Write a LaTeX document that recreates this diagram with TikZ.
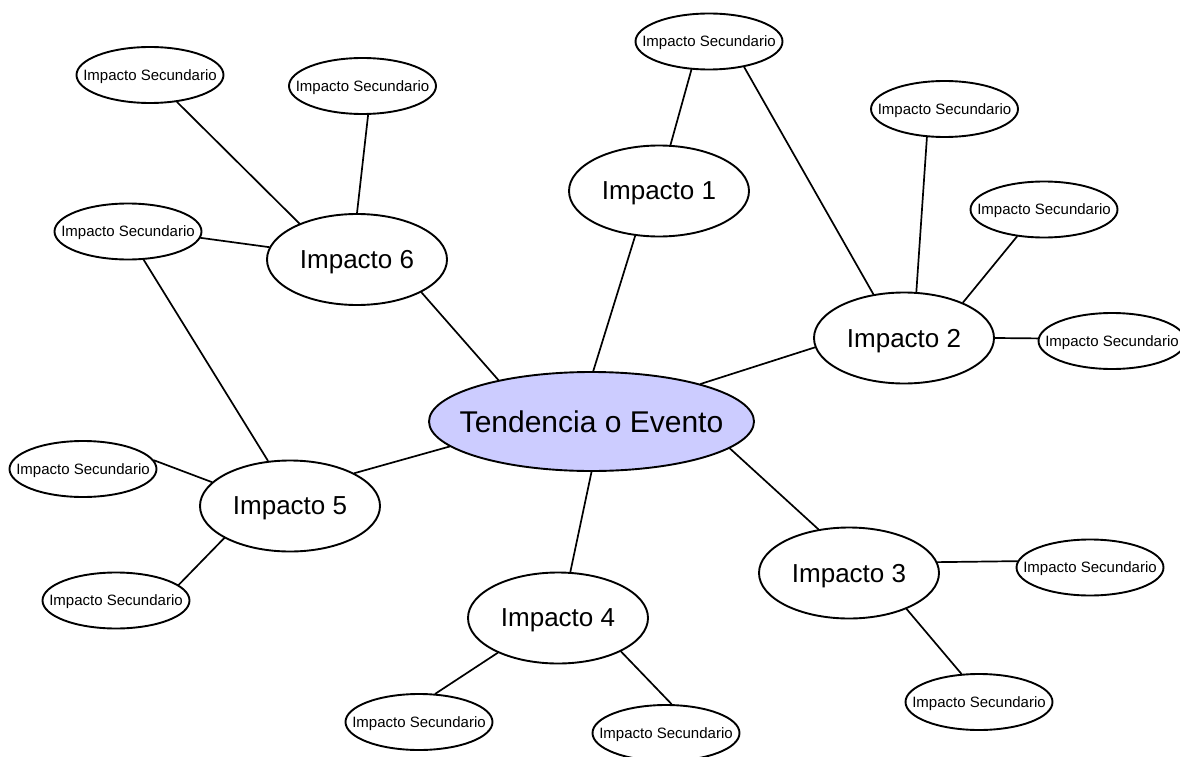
\documentclass[tikz,border=0pt]{standalone}
\usepackage{fontspec}
\setmainfont{Liberation Sans}
\usetikzlibrary{shapes.geometric}
\definecolor{lav}{RGB}{204,204,255}
\tikzset{
  ell/.style={ellipse, draw=black, line width=1.9pt, inner sep=0pt, fill=white},
  big/.style={ell, minimum width=180pt, minimum height=91pt},
  sec/.style={ell, minimum width=147pt, minimum height=56pt},
  hub/.style={ell, fill=lav, minimum width=325pt, minimum height=99pt},
  bt/.style={font=\fontsize{26}{30}\selectfont, inner sep=0pt, text depth=0pt},
  st/.style={font=\fontsize{15}{17}\selectfont, inner sep=0pt, text depth=0pt},
  ht/.style={font=\fontsize{30}{35}\selectfont, inner sep=0pt, text depth=0pt},
  conn/.style={line width=1.7pt, line cap=round},
}
\begin{document}
\begin{tikzpicture}[x=1pt,y=-1pt]
\useasboundingbox (0,0) rectangle (1180,757);
% central
\node[hub, label={[ht]center:Tendencia o Evento}] (c) at (591.5,421.5) {};
% impacts
\node[big, label={[bt]center:Impacto 1}] (i1) at (659,191) {};
\node[big, label={[bt]center:Impacto 2}] (i2) at (904,338) {};
\node[big, label={[bt]center:Impacto 3}] (i3) at (849,573) {};
\node[big, label={[bt]center:Impacto 4}] (i4) at (558,618) {};
\node[big, label={[bt]center:Impacto 5}] (i5) at (290,506) {};
\node[big, label={[bt]center:Impacto 6}] (i6) at (357,259.5) {};
% secondary
\node[sec, label={[st]center:Impacto Secundario}] (s1) at (709,41.5) {};
\node[sec, label={[st]center:Impacto Secundario}] (s2) at (944.5,109) {};
\node[sec, label={[st]center:Impacto Secundario}] (s3) at (1044,209.5) {};
\node[sec, label={[st]center:Impacto Secundario}] (s4) at (1112,341) {};
\node[sec, label={[st]center:Impacto Secundario}] (s5) at (1090,567.5) {};
\node[sec, label={[st]center:Impacto Secundario}] (s6) at (979,702) {};
\node[sec, label={[st]center:Impacto Secundario}] (s7) at (666,733) {};
\node[sec, label={[st]center:Impacto Secundario}] (s8) at (419,722) {};
\node[sec, label={[st]center:Impacto Secundario}] (s9) at (116,600.5) {};
\node[sec, label={[st]center:Impacto Secundario}] (s10) at (83,469) {};
\node[sec, label={[st]center:Impacto Secundario}] (s11) at (128,231.5) {};
\node[sec, label={[st]center:Impacto Secundario}] (s12) at (150,75) {};
\node[sec, label={[st]center:Impacto Secundario}] (s13) at (362.5,86) {};
% connectors
\draw[conn] (c.88.3) -- (i1.242.9);
\draw[conn] (c.19) -- (i2.186.4);
\draw[conn] (c.349.2) -- (i3.125.4);
\draw[conn] (c.270) -- (i4.75);
\draw[conn] (c.190.9) -- (i5.27.2);
\draw[conn] (c.156.4) -- (i6.333.6);
\draw[conn] (i1.76.1) -- (s1.238.7);
\draw[conn] (s1.324.1) -- (i2.125.5);
\draw[conn] (i2.75.2) -- (s2.238.1);
\draw[conn] (i2.31) -- (s3.225.5);
\draw[conn] (i2.0) -- (s4.178.5);
\draw[conn] (i3.7) -- (s5.175.7);
\draw[conn] (i3.328.4) -- (s6.122.2);
\draw[conn] (i4.332.7) -- (s7.79);
\draw[conn] (i4.210.5) -- (s8.60);
\draw[conn] (i5.206.3) -- (s9.14.8);
\draw[conn] (i5.163.4) -- (s10.7.4);
\draw[conn] (s11.299.3) -- (i5.116.1);
\draw[conn] (i6.172.7) -- (s11.355.5);
\draw[conn] (i6.148.4) -- (s12.315);
\draw[conn] (i6.90.4) -- (s13.281.7);
\end{tikzpicture}
\end{document}
